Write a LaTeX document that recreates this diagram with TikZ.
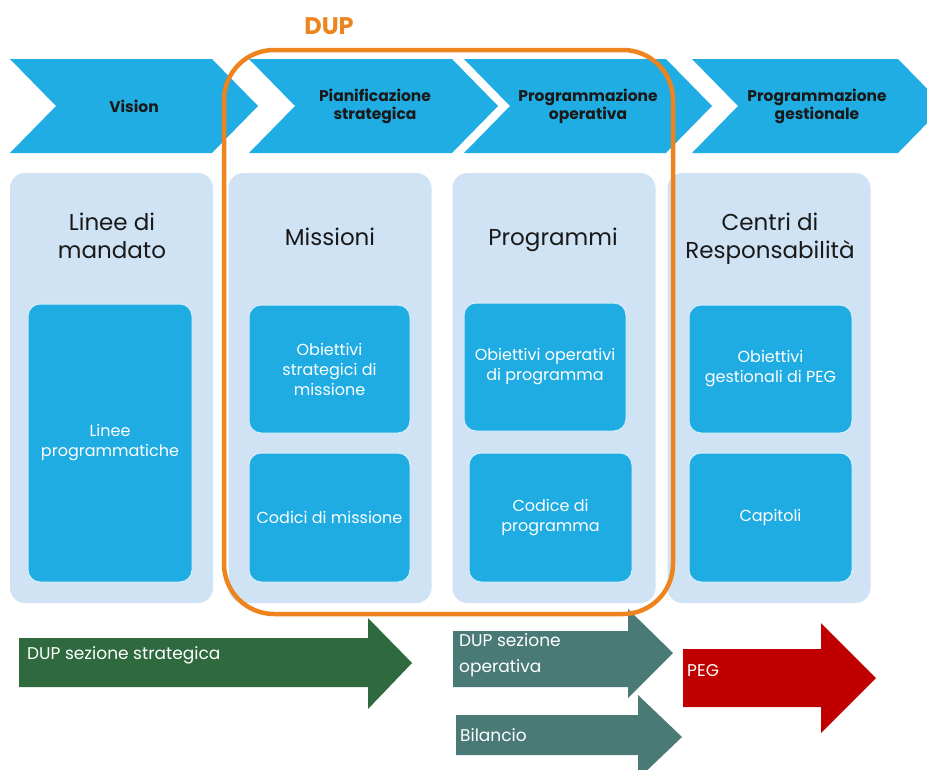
\documentclass[tikz,border=0pt]{standalone}
\usepackage{fontspec}
\setmainfont{Poppins}

\definecolor{chevblue}{RGB}{31,173,228}
\definecolor{panelblue}{RGB}{207,227,244}
\definecolor{boxblue}{RGB}{30,172,226}
\definecolor{boxline}{RGB}{215,238,250}
\definecolor{duporange}{RGB}{238,132,30}
\definecolor{strgreen}{RGB}{46,106,62}
\definecolor{opteal}{RGB}{73,122,118}
\definecolor{pegred}{RGB}{192,0,0}
\definecolor{titlegrey}{RGB}{25,25,25}

\begin{document}
\begin{tikzpicture}[x=1pt, y=-1pt,
	chev/.style={fill=chevblue},
	chevtext/.style={font=\fontsize{15.5}{18}\selectfont\bfseries, align=center, text=titlegrey},
	panel/.style={fill=panelblue, rounded corners=15pt, minimum width=203pt, minimum height=430pt, inner sep=0pt},
	inbox/.style={fill=boxblue, draw=boxline, line width=1pt, rounded corners=12pt, text=white, align=center, font=\fontsize{16}{20}\selectfont, inner sep=0pt},
	title/.style={font=\fontsize{23}{28}\selectfont, align=center, text=titlegrey},
	bandtext/.style={text=white, font=\fontsize{17}{26}\selectfont, anchor=west, align=left, inner sep=0pt}]

			\useasboundingbox (0,0) rectangle (927,769);
			\clip (0,0) rectangle (927,769);

			% chevrons on top
			\fill [chev] (10,59) -- (212,59) -- (258,106) -- (212,153) -- (10,153) -- (56,106) -- cycle;
			\fill [chev] (249,59) -- (452,59) -- (498,106) -- (452,153) -- (249,153) -- (295,106) -- cycle;
			\fill [chev] (464,59) -- (666,59) -- (712,106) -- (666,153) -- (464,153) -- (510,106) -- cycle;
			\fill [chev] (692,59) -- (898,59) -- (944,106) -- (898,153) -- (692,153) -- (738,106) -- cycle;

			\node[chevtext] (vision) at (134,106) {Vision};
			\node[chevtext] (pianif) at (375,106) {Pianificazione\\strategica};
			\node[chevtext] (progop) at (588,106) {Programmazione\\operativa};
			\node[chevtext] (progges) at (817,106) {Programmazione\\gestionale};

			% panels
			\node[panel] (mandato) at (111.5,388) {};
			\node[panel] (missioni) at (330,388) {};
			\node[panel] (programmi) at (554,388) {};
			\node[panel] (centri) at (769,388) {};

			% panel titles
			\node[title] (tmandato) at (112,236) {Linee di\\mandato};
			\node[title] (tmissioni) at (330,237) {Missioni};
			\node[title] (tprogrammi) at (553,240) {Programmi};
			\node[title] (tcentri) at (770,239) {Centri di\\Responsabilità};

			% boxes in the panels
			\node[inbox, minimum width=164pt, minimum height=278pt] (lineeprog) at (110,443) {Linee\\programmatiche};
			\node[inbox, minimum width=161pt, minimum height=128pt] (obstrat) at (329.5,369) {Obiettivi\\strategici di\\missione};
			\node[inbox, minimum width=161pt, minimum height=129pt] (codmiss) at (329.5,517.5) {Codici di missione};
			\node[inbox, minimum width=162pt, minimum height=128pt] (oboper) at (545,367) {Obiettivi operativi\\di programma};
			\node[inbox, minimum width=163pt, minimum height=129pt] (codprog) at (550.5,517.5) {Codice di\\programma};
			\node[inbox, minimum width=163pt, minimum height=128pt] (obgest) at (770.5,369) {Obiettivi\\gestionali di PEG};
			\node[inbox, minimum width=163pt, minimum height=129pt] (capitoli) at (770.5,517.5) {Capitoli};

			% arrows at the bottom
			\fill [strgreen] (19,638) -- (368,638) -- (368,618) -- (412,663) -- (368,709) -- (368,687) -- (19,687) -- cycle;
			\fill [opteal] (453,631) -- (628,631) -- (628,609) -- (673,653) -- (628,698) -- (628,687) -- (453,687) -- cycle;
			\fill [opteal] (456,715) -- (638,715) -- (638,695) -- (682,737) -- (638,779) -- (638,755) -- (456,755) -- cycle;
			\fill [pegred] (683,649) -- (821,649) -- (821,623) -- (876,678) -- (821,733) -- (821,707) -- (683,707) -- cycle;

			\node[bandtext] (sezstrat) at (27,655) {DUP sezione strategica};
			\node[bandtext] (sezop) at (459,655) {DUP sezione\\operativa};
			\node[bandtext] (bilancio) at (460,735) {Bilancio};
			\node[bandtext] (peg) at (687,671) {PEG};

			% DUP frame
			\draw [duporange, line width=4.5pt, rounded corners=50pt] (224,50) rectangle (673,614);
			\node[text=duporange, font=\fontsize{24}{28}\selectfont\bfseries] (dup) at (329,26) {DUP};

		\end{tikzpicture}
\end{document}
